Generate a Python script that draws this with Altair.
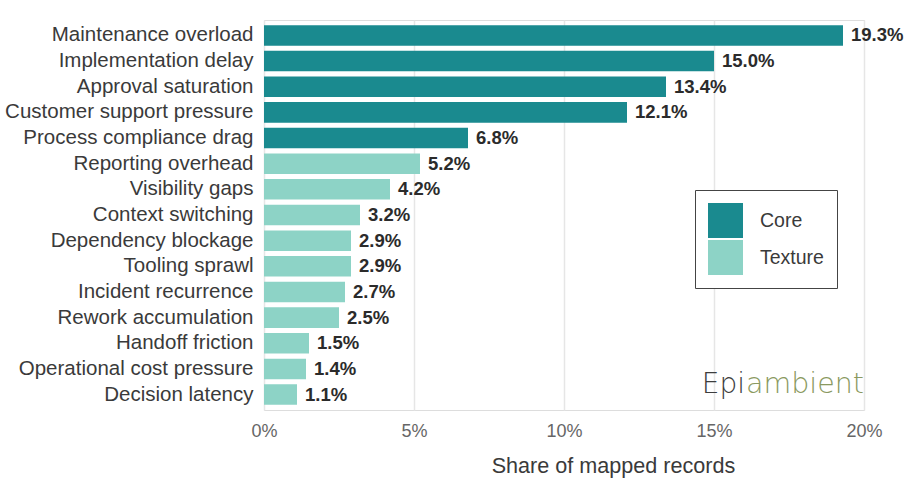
import altair as alt
import pandas as pd

categories = [
    "Maintenance overload", "Implementation delay", "Approval saturation",
    "Customer support pressure", "Process compliance drag", "Reporting overhead",
    "Visibility gaps", "Context switching", "Dependency blockage", "Tooling sprawl",
    "Incident recurrence", "Rework accumulation", "Handoff friction",
    "Operational cost pressure", "Decision latency",
]
values = [19.3, 15.0, 13.4, 12.1, 6.8, 5.2, 4.2, 3.2, 2.9, 2.9, 2.7, 2.5, 1.5, 1.4, 1.1]
groups = ["Core"] * 5 + ["Texture"] * 10
group_names = ["Core", "Texture"]
group_colors = ["#1a8a8f", "#8dd3c6"]
x_ticks = [0, 5, 10, 15, 20]

df = pd.DataFrame({"category": categories, "value": values, "group": groups})
df["label"] = [f"{v:.1f}%" for v in values]

FONT = "Liberation Sans"

y_enc = alt.Y("category:N", sort=categories, title=None,
              scale=alt.Scale(paddingInner=0.2, paddingOuter=0.2),
              axis=alt.Axis(labelFontSize=20.5, labelColor="#3a3a3a", labelFont=FONT,
                            ticks=False, domain=False, labelPadding=11, grid=False,
                            labelLimit=0))
x_enc = alt.X("value:Q", title="Share of mapped records",
              scale=alt.Scale(domain=[0, 20], nice=False),
              axis=alt.Axis(values=x_ticks, labelExpr="datum.value + '%'",
                            labelFontSize=18, labelColor="#666666", labelFont=FONT,
                            labelFlush=False,
                            titleFontSize=21.6, titleColor="#3a3a3a", titleFont=FONT,
                            titleFontWeight="normal", titlePadding=15,
                            titleX=349, titleAlign="center",
                            ticks=False, domain=False, labelPadding=12,
                            grid=True, gridColor="#e6e6e6", gridWidth=1.5))

bars = alt.Chart(df).mark_bar().encode(
    y=y_enc, x=x_enc,
    color=alt.Color("group:N", scale=alt.Scale(domain=group_names, range=group_colors),
                    legend=alt.Legend(title=None, orient="none", legendX=431, legendY=170,
                                      symbolType="square", symbolSize=1225,
                                      symbolStrokeWidth=0, labelFontSize=19.5,
                                      labelFont=FONT, labelColor="#3a3a3a",
                                      labelOffset=17, rowPadding=2,
                                      padding=13, strokeColor="#444444",
                                      fillColor="white", cornerRadius=0)),
)

labels = alt.Chart(df).mark_text(align="left", baseline="middle", dx=8,
                                 fontSize=18.5, fontWeight="bold", font=FONT,
                                 color="#2b2b2b").encode(
    y=alt.Y("category:N", sort=categories), x="value:Q", text="label:N")

wm1 = alt.Chart(pd.DataFrame({"t": ["Epi"]})).mark_text(
    align="right", baseline="alphabetic", fontSize=28, font="DejaVu Sans",
    fontWeight=300, color="#3d3d3d").encode(x=alt.value(481), y=alt.value(373), text="t:N")
wm2 = alt.Chart(pd.DataFrame({"t": ["ambient"]})).mark_text(
    align="left", baseline="alphabetic", fontSize=28.5, font="DejaVu Sans",
    fontWeight=300, color="#8a9960").encode(x=alt.value(482), y=alt.value(373), text="t:N")

chart = alt.layer(bars, labels, wm1, wm2).properties(
    width=600, height=390,
    autosize=alt.AutoSizeParams(type="none"),
    padding={"left": 264, "top": 20, "right": 57, "bottom": 78},
).configure_view(stroke=None).configure(background="white")

chart.save("out.html", embed_options={"renderer": "svg", "actions": False})
